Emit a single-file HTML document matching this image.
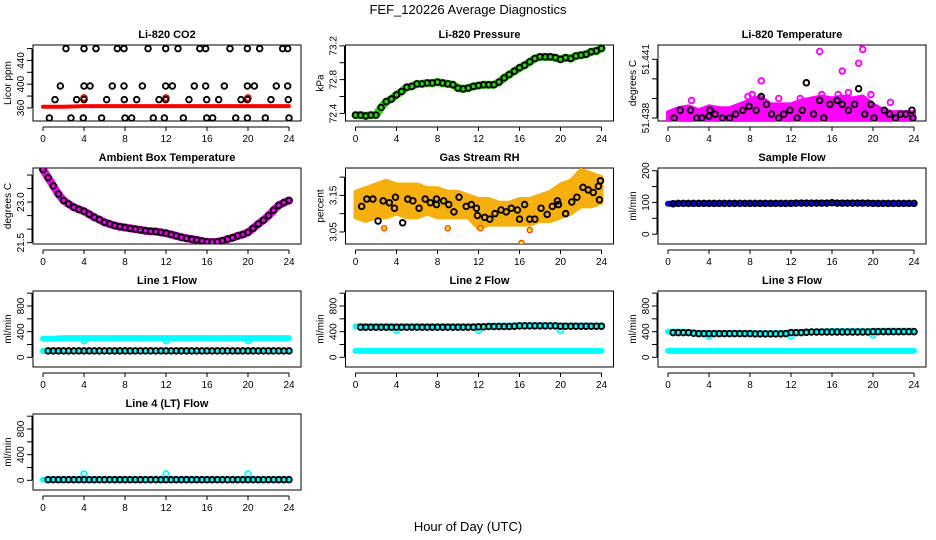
<!DOCTYPE html>
<html><head><meta charset="utf-8"><style>
html,body{margin:0;padding:0;background:#fff;}
svg{display:block;font-family:"Liberation Sans",sans-serif;}
</style></head><body>
<svg id="chart" width="936" height="540" viewBox="0 0 936 540">
<text x="468" y="14" text-anchor="middle" font-size="13">FEF_120226  Average Diagnostics</text>
<text x="468" y="531" text-anchor="middle" font-size="13">Hour of Day (UTC)</text>
</svg>
<script>
// ---------- data ----------
const hours = [0,4,8,12,16,20,24];
const halfT = [];
for (let i=0;i<=48;i++) halfT.push(i/2);
const hourT = [0,1,2,3,4,5,6,7,8,9,10,11,12,13,14,15,16,17,18,19,20,21,22,23,24];

// CO2
const co2BlackT = [2.24,4.0,5.17,7.25,7.9,10.25,11.97,13.17,15.3,15.87,18.24,19.94,21.14,23.38,23.87,
 1.69,4.0,4.59,6.76,7.9,9.69,11.97,12.62,14.76,15.87,17.69,19.94,20.62,22.76,23.87,
 1.17,3.28,4.0,6.21,7.93,9.14,11.32,11.97,14.24,15.97,17.14,19.32,19.94,22.24,23.93,
 0.62,2.73,3.93,5.72,8.0,8.65,10.76,11.84,13.69,15.97,16.55,18.8,19.94,21.69,24.0];
const co2BlackV = [460,460,460,460,460,460,460,460,460,460,460,460,460,460,460,
 397,397,397,397,397,397,397,397,397,397,397,397,397,397,397,
 374,374,374,374,374,374,374,374,374,374,374,374,374,374,374,
 343,343,343,343,343,343,343,343,343,343,343,343,343,343,343];
const co2RedT = [0,2,4,6,8,10,12,14,16,18,20,22,24];
const co2RedV = [362,362,363,363,363,363,363,363,363,363,363,363,363];
const co2RedOutT = [4,12,20];
const co2RedOutV = [377,377,377];

// Pressure
const presV = [72.38,72.38,72.37,72.38,72.38,72.47,72.54,72.57,72.62,72.66,72.71,72.72,72.75,72.75,72.76,72.76,72.77,72.76,72.75,72.74,72.70,72.69,72.70,72.72,72.73,72.74,72.74,72.74,72.77,72.82,72.86,72.90,72.94,72.97,73.01,73.05,73.07,73.07,73.07,73.06,73.04,73.06,73.05,73.08,73.09,73.10,73.13,73.14,73.17];

// Li-820 temperature
const tempUpper = [51.4383,51.4385,51.4386,51.4384,51.4386,51.4385,51.4385,51.4387,51.4389,51.4391,51.4387,51.4387,51.4387,51.4389,51.4390,51.4391,51.4390,51.4391,51.4390,51.4391,51.4387,51.4384,51.4383,51.4383,51.4383];
const tempMagT = [2.3,8.2,9.1,13.5,14.8,17,18.6,18.9,19,21.7,15,7.8,10.8,12.9,16.6,17.6,19.8];
const tempMagV = [51.4389,51.4392,51.4399,51.4398,51.4414,51.4404,51.4408,51.4418,51.4415,51.4388,51.4392,51.4391,51.4390,51.4390,51.4392,51.4393,51.4392];
const tempBlkT = [0.6,1.2,2.2,2.8,3.3,4,4.1,4.6,5.3,6,6.6,7.3,7.9,8.6,9.1,9.6,10.1,10.8,11.3,11.9,12.6,13.1,13.5,14.2,14.8,15.2,15.8,16.5,17,17.6,18.2,18.6,19.2,19.8,20.1,21.1,21.6,22.2,22.7,23.2,23.8,23.9];
const tempBlkV = [51.438,51.4384,51.4384,51.438,51.438,51.4381,51.4384,51.4382,51.438,51.438,51.4382,51.4384,51.4386,51.4384,51.4391,51.4387,51.4382,51.438,51.4382,51.4384,51.438,51.4384,51.4398,51.4382,51.4389,51.438,51.4387,51.4389,51.4387,51.4384,51.4387,51.4395,51.4382,51.4387,51.438,51.4384,51.4382,51.438,51.4382,51.4382,51.4384,51.438];

// Ambient box temperature
const ambV = [24.2,23.9,23.6,23.3,23.06,22.93,22.81,22.73,22.66,22.55,22.44,22.35,22.25,22.19,22.13,22.09,22.06,22.03,22.0,21.97,21.94,21.92,21.91,21.88,21.85,21.8,21.75,21.7,21.66,21.63,21.6,21.56,21.53,21.52,21.53,21.57,21.63,21.68,21.75,21.8,21.88,22.03,22.19,22.33,22.5,22.7,22.88,22.98,23.06];

// Gas stream RH
const rhUpper = [3.16,3.17,3.18,3.19,3.18,3.18,3.18,3.17,3.17,3.16,3.16,3.15,3.14,3.14,3.13,3.13,3.14,3.14,3.15,3.16,3.18,3.19,3.22,3.21,3.20];
const rhLower = [3.09,3.08,3.09,3.09,3.10,3.09,3.09,3.10,3.09,3.09,3.09,3.09,3.06,3.07,3.07,3.07,3.07,3.07,3.08,3.08,3.09,3.10,3.12,3.12,3.13];
const rhOutT = [16.2,12.2,17,9,2.8];
const rhOutV = [3.02,3.06,3.055,3.06,3.06];
const rhBlkT = [0.6,1.1,1.7,2.2,2.7,3.3,3.8,3.9,4.6,5.1,5.6,6.2,6.8,7.3,7.9,7.9,8.6,9.1,9.6,10.1,10.8,11.3,11.8,11.9,12.6,13.1,13.6,14.2,14.7,15.2,15.8,16,16.5,17,17.5,18.1,18.7,19.2,19.7,19.8,20.5,21.1,21.6,22.2,22.7,23.2,23.7,23.8,23.9];
const rhBlkV = [3.12,3.14,3.14,3.08,3.135,3.13,3.115,3.145,3.075,3.14,3.135,3.115,3.14,3.13,3.14,3.125,3.135,3.125,3.105,3.145,3.12,3.125,3.115,3.095,3.09,3.085,3.1,3.11,3.105,3.115,3.11,3.085,3.125,3.085,3.085,3.115,3.098,3.12,3.135,3.125,3.1,3.132,3.145,3.172,3.165,3.158,3.175,3.138,3.19];

// Sample flow
const sampleV = [96,96,97,97,97,97,97,97,97,97,97,97,97,97,97,97,97,97,97,97,97,97,97,97,97,98,98,98,98,98,98,98,99,98,98,98,98,98,98,98,97,97,97,97,97,97,97,97,97];

// Line flows
const spikeT = [4,12,20];
const l1Cyan = [290,290,300,300,300,300,300,300,300,300,300,300,300,300,300,300,300,300,300,300,300,300,300,300,300];
const l1CyanLow = [100,100,100,100,100,100,100,100,100,100,100,100,100,100,100,100,100,100,100,100,100,100,100,100,100];
const l1Spike = [260,260,260];
const l1Black = [100,100,100,100,100,100,100,100,100,100,100,100,100,100,100,100,100,100,100,100,100,100,100,100,100,100,100,100,100,100,100,100,100,100,100,100,100,100,100,100,100,100,100,100,100,100,100,100,100];
const l2Cyan = [485,480,480,480,480,480,480,480,480,480,480,480,485,490,495,495,500,500,500,500,495,495,495,495,495];
const l2CyanLow = [100,100,100,100,100,100,100,100,100,100,100,100,100,100,100,100,100,100,100,100,100,100,100,100,100];
const l2Spike = [420,420,420];
const l2Black = [470,470,470,470,470,470,470,470,470,470,470,470,470,470,470,470,470,470,470,470,470,470,470,470,475,475,480,480,480,480,480,485,490,490,490,490,490,490,490,490,485,485,485,485,485,485,485,485,485];
const l3Cyan = [400,400,395,380,375,375,375,375,375,375,375,375,390,395,400,405,410,410,410,410,410,415,415,415,415];
const l3CyanLow = [100,100,100,100,100,100,100,100,100,100,100,100,100,100,100,100,100,100,100,100,100,100,100,100,100];
const l3Spike = [330,330,350];
const l3Black = [385,385,385,385,385,375,370,370,370,370,370,370,370,370,370,370,370,365,365,365,365,365,365,370,385,385,385,390,395,395,395,395,395,395,395,395,395,395,395,395,400,400,400,400,400,400,400,400,400];
const l4Cyan = [10,10,10,10,10,10,10,10,10,10,10,10,10,10,10,10,10,10,10,10,10,10,10,10,10];
const l4Spike = [100,100,100];
const l4Black = [10,10,10,10,10,10,10,10,10,10,10,10,10,10,10,10,10,10,10,10,10,10,10,10,10,10,10,10,10,10,10,10,10,10,10,10,10,10,10,10,10,10,10,10,10,10,10,10,10];

// ---------- drawing ----------
const NS = 'http://www.w3.org/2000/svg';
const svg = document.getElementById('chart');
function mk(tag, attrs, parent){
  const e = document.createElementNS(NS, tag);
  for (const k in attrs) e.setAttribute(k, attrs[k]);
  (parent||svg).appendChild(e);
  return e;
}
function makePanel(col,row,title,ylab,ymin,ymax,ticks,labels,fmt){
  const L = 33 + 312.5*col, T = 45 + 123*row, W = 268, H = 76;
  const g = mk('g',{});
  
  
  const x = t => L + 10 + t/24*246;
  const y = v => T + H - (v - ymin)/(ymax - ymin)*H;
  const box = mk('rect',{x:L,y:T,width:W,height:H,fill:'none',stroke:'#000','stroke-width':1},g);
  
  
  const tt = mk('text',{x:L+W/2,y:T-7,'text-anchor':'middle','font-size':11,'font-weight':'bold'},g);
  tt.textContent = title;
  
  
  const xa = mk('g',{},g);
  
  
  mk('line',{x1:x(0),x2:x(24),y1:T+H+6,y2:T+H+6,stroke:'#000'},xa);
  hours.forEach(h=>{
    mk('line',{x1:x(h),x2:x(h),y1:T+H+6,y2:T+H+10,stroke:'#000'},xa);
    const tl = mk('text',{x:x(h),y:T+H+21,'text-anchor':'middle','font-size':10},xa);
    tl.textContent = h;
    
    
  });
  const ya = mk('g',{},g);
  
  
  const ax = L - 1;
  mk('line',{x1:ax,x2:ax,y1:y(ticks[0]),y2:y(ticks[ticks.length-1]),stroke:'#000'},ya);
  ticks.forEach(v=>{
    mk('line',{x1:ax-5,x2:ax,y1:y(v),y2:y(v),stroke:'#000'},ya);
  });
  labels.forEach(v=>{
    const tl = mk('text',{x:0,y:0,'text-anchor':'middle','font-size':10,transform:`translate(${ax-8},${y(v)}) rotate(-90)`},ya);
    tl.textContent = fmt(v);
    
    
  });
  const yl = mk('text',{x:0,y:0,'text-anchor':'middle','font-size':10,transform:`translate(${L-22},${T+H/2}) rotate(-90)`},g);
  yl.textContent = ylab;
  
  
  const clip = 'clip'+col+row;
  const cp = mk('clipPath',{id:clip},g);
  mk('rect',{x:L,y:T,width:W,height:H},cp);
  const plot = mk('g',{'clip-path':`url(#${clip})`},g);
  
  
  return {x,y,plot};
}
function band(p,ts,vs,color,w,name){
  const pts = ts.map((t,i)=>p.x(t)+','+p.y(vs[i])).join(' ');
  const e = mk('polyline',{points:pts,fill:'none',stroke:color,'stroke-width':w,'stroke-linejoin':'round','stroke-linecap':'round'},p.plot);
  
  
}
function area(p,ts,up,lo,color,name){
  const a = ts.map((t,i)=>p.x(t)+','+p.y(up[i]));
  const b = ts.map((t,i)=>p.x(t)+','+p.y(lo[i])).reverse();
  const e = mk('polygon',{points:a.concat(b).join(' '),fill:color,stroke:color,'stroke-width':4,'stroke-linejoin':'round'},p.plot);
  
  
}
function pts(p,ts,vs,color,name,r,sw,fill){
  ts.forEach((t,i)=>{
    const c = mk('circle',{cx:p.x(t),cy:p.y(vs[i]),r:r||2.8,fill:fill||'none',stroke:color,'stroke-width':sw||1.9},p.plot);
    
    
  });
}
const f0 = v=>String(v);

let p = makePanel(0,0,'Li-820 CO2','Licor ppm',338,466,[360,380,400,420,440,460],[360,400,440],f0);
band(p,co2RedT,co2RedV,'#ff0000',4,'co2-red-band');
pts(p,co2RedOutT,co2RedOutV,'#ff0000','co2-red-point');
pts(p,co2BlackT,co2BlackV,'#000','co2-point');

p = makePanel(1,0,'Li-820 Pressure','kPa',72.31,73.21,[72.4,72.6,72.8,73.0,73.2],[72.4,72.8,73.2],v=>v.toFixed(1));
band(p,halfT,presV,'#22dd00',8,'pressure-band');
pts(p,halfT,presV,'#000','pressure-point');

p = makePanel(2,0,'Li-820 Temperature','degrees C',51.43785,51.44173,[51.438,51.439,51.440,51.441],[51.438,51.441],v=>v.toFixed(3));
area(p,hourT,tempUpper,tempUpper.map(()=>51.4379),'#ff00ff','temp-magenta-band');
pts(p,tempMagT,tempMagV,'#ff00ff','temp-magenta-point');
pts(p,tempBlkT,tempBlkV,'#000','temp-point');

p = makePanel(0,1,'Ambient Box Temperature','degrees C',21.45,24.26,[21.5,22,22.5,23,23.5,24],[21.5,23.0],v=>v.toFixed(1));
band(p,halfT,ambV,'#ee00ee',8,'ambient-band');
pts(p,halfT,ambV,'#000','ambient-point');

p = makePanel(1,1,'Gas Stream RH','percent',3.017,3.225,[3.05,3.10,3.15,3.20],[3.05,3.15],v=>v.toFixed(2));
area(p,hourT,rhUpper,rhLower,'#f5b010','rh-band');
pts(p,rhOutT,rhOutV,'#ee3300','rh-outlier',2.6,1.2,'#ffdd00');
pts(p,rhBlkT,rhBlkV,'#000','rh-point');

p = makePanel(2,1,'Sample Flow','ml/min',-31,208.5,[0,50,100,150,200],[0,100,200],f0);
band(p,halfT,sampleV,'#0000ee',6,'sample-band');
pts(p,halfT.slice(1),sampleV.slice(1),'#000','sample-point');

const fTicks=[0,200,400,600,800,1000], fLabs=[0,400,800];
p = makePanel(0,2,'Line 1 Flow','ml/min',-151,1034,fTicks,fLabs,f0);
band(p,hourT,l1Cyan,'#00ffff',6,'line1-cyan-band');
band(p,hourT,l1CyanLow,'#00ffff',6,'line1-cyan-low-band');
pts(p,spikeT,l1Spike,'#00ffff','line1-cyan-point');
pts(p,halfT.slice(1),l1Black.slice(1),'#000','line1-point');

p = makePanel(1,2,'Line 2 Flow','ml/min',-151,1034,fTicks,fLabs,f0);
band(p,hourT,l2Cyan,'#00ffff',6,'line2-cyan-band');
band(p,hourT,l2CyanLow,'#00ffff',6,'line2-cyan-low-band');
pts(p,spikeT,l2Spike,'#00ffff','line2-cyan-point');
pts(p,halfT.slice(1),l2Black.slice(1),'#000','line2-point');

p = makePanel(2,2,'Line 3 Flow','ml/min',-151,1034,fTicks,fLabs,f0);
band(p,hourT,l3Cyan,'#00ffff',6,'line3-cyan-band');
band(p,hourT,l3CyanLow,'#00ffff',6,'line3-cyan-low-band');
pts(p,spikeT,l3Spike,'#00ffff','line3-cyan-point');
pts(p,halfT.slice(1),l3Black.slice(1),'#000','line3-point');

p = makePanel(0,3,'Line 4 (LT) Flow','ml/min',-151,1034,fTicks,fLabs,f0);
band(p,hourT,l4Cyan,'#00ffff',6,'line4-cyan-band');
pts(p,spikeT,l4Spike,'#00ffff','line4-cyan-point');
pts(p,halfT.slice(1),l4Black.slice(1),'#000','line4-point');
</script>
</body></html>
